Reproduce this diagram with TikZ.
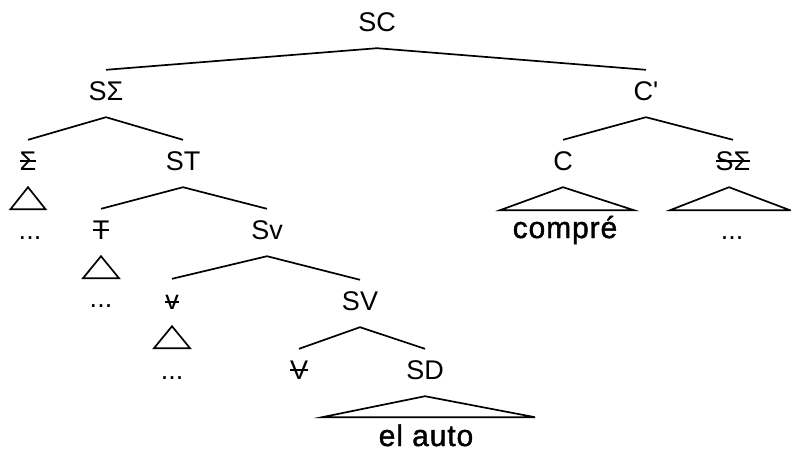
\documentclass[tikz,border=0pt]{standalone}
\usepackage{fontspec}
\setmainfont{Liberation Sans}
\newfontfamily\plainfont{Liberation Sans}
\newfontfamily\leaffont{Liberation Sans}[LetterSpace=3,FakeBold=1.4]
\newsavebox\strkbox
\newcommand\strk[1]{\sbox\strkbox{#1}\usebox\strkbox\llap{\rule[\dimexpr0.5\ht\strkbox-0.035em\relax]{\wd\strkbox}{0.07em}}}
\begin{document}
\begin{tikzpicture}[x=1pt,y=-1pt,
  lab/.style={font=\fontsize{27}{27}\selectfont, inner sep=0pt, text height=30pt, text depth=17pt, anchor=base},
  leaf/.style={font=\leaffont\fontsize{30}{30}\selectfont, inner sep=0pt, anchor=base},
  dots/.style={font=\fontsize{27}{27}\selectfont, inner sep=0pt, anchor=base},
  br/.style={line width=1.7pt},
  tri/.style={line width=1.7pt, line join=miter}]
\useasboundingbox (0,0) rectangle (791,451);
% labels
\node[lab] (SC) at (377,31) {SC};
\node[lab] (SS) at (106,100) {SΣ};
\node[lab] (Cb) at (646,100) {C{\plainfont'}};
\node[lab] (Sig) at (28,170) {\strk{Σ}};
\node[lab] (ST) at (183,170) {ST};
\node[lab] (C) at (563,170) {C};
\node[lab] (SS2) at (733,170) {\strk{SΣ}};
\node[lab] (T) at (101,239) {\strk{T}};
\node[lab] (Sv) at (267,239) {Sv};
\node[lab] (v) at (172,309) {\strk{v}};
\node[lab] (SV) at (360,310) {SV};
\node[lab] (V) at (299,379) {\strk{V}};
\node[lab] (SD) at (425,379) {SD};
% branches
\draw[br] (SS.north) -- (SC.south) -- (Cb.north);
\draw[br] (Sig.north) -- (SS.south) -- (ST.north);
\draw[br] (C.north) -- (Cb.south) -- (SS2.north);
\draw[br] (T.north) -- (ST.south) -- (Sv.north);
\draw[br] (v.north) -- (Sv.south) -- (SV.north);
\draw[br] (V.north) -- (SV.south) -- (SD.north);
% triangles
\draw[tri] (Sig.south) -- ++(-17.5,22) -- ++(35,0) -- cycle;
\draw[tri] (T.south) -- ++(-18,22) -- ++(36,0) -- cycle;
\draw[tri] (v.south) -- ++(-18,22) -- ++(36,0) -- cycle;
\draw[tri] (C.south) -- ++(-63,23) -- ++(134,0) -- cycle;
\draw[tri] ([xshift=-4pt]SS2.south) -- ++(-59,23) -- ++(120,0) -- cycle;
\draw[tri] (SD.south) -- ++(-103,21) -- ++(213,0) -- cycle;
% leaves
\node[leaf] (compre) at (565,238) {compré};
\node[leaf] (elauto) at (426,446) {el auto};
\node[dots] (d1) at (30,239.5) {...};
\node[dots] (d2) at (101,307.5) {...};
\node[dots] (d3) at (172,379.5) {...};
\node[dots] (d4) at (732,239.5) {...};
\end{tikzpicture}
\end{document}
